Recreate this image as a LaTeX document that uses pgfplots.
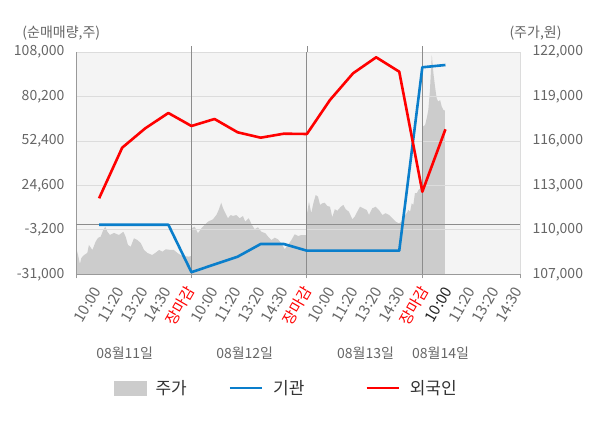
\documentclass[border=0pt]{standalone}
\usepackage{fontspec}
\setmainfont{Noto Sans CJK KR}
\usepackage{pgfplots}
\pgfplotsset{compat=1.18}
\definecolor{bgcol}{HTML}{F4F4F4}
\definecolor{areagray}{HTML}{CCCCCC}
\definecolor{gridlight}{HTML}{DCDCDC}
\definecolor{griddark}{HTML}{8C8C8C}
\definecolor{axisgray}{HTML}{999999}
\definecolor{ticktext}{HTML}{666666}
\definecolor{instblue}{HTML}{0A7ECB}
\definecolor{forred}{HTML}{FF0000}
\definecolor{legtext}{HTML}{333333}
\definecolor{darklabel}{HTML}{222222}

\pgfplotstableread{
x price
0 108640
0.03 108640
0.09 108300
0.17 107695
0.23 108100
0.35 108300
0.49 108440
0.56 108980
0.71 108640
0.85 109200
0.95 109450
1.07 109540
1.18 109990
1.27 110210
1.36 109870
1.47 109650
1.65 109790
1.86 109650
2.05 109870
2.15 109540
2.25 108980
2.37 108860
2.51 109430
2.66 109310
2.80 109110
2.95 108640
3.09 108440
3.30 108300
3.45 108460
3.60 108640
3.74 108525
3.89 108690
4.10 108640
4.24 108640
4.39 108440
4.53 108300
4.68 108235
4.89 108190
4.99 108235
5.00 110100
5.14 110210
5.28 109770
5.43 110100
5.57 110330
5.72 110550
5.93 110710
6.08 111000
6.18 111340
6.29 111830
6.37 111450
6.47 111120
6.58 110780
6.70 111000
6.80 110930
6.94 111000
7.09 110780
7.23 110930
7.33 110550
7.48 110780
7.62 110330
7.74 110040
7.88 110170
8.03 109870
8.20 109770
8.32 109540
8.46 109310
8.61 109470
8.75 109360
8.89 109090
9.04 108690
9.18 108980
9.33 109310
9.47 109700
9.62 109580
9.76 109650
9.99 109650
10.01 111120
10.09 111900
10.19 111120
10.28 111790
10.38 112350
10.48 112240
10.57 111680
10.67 111790
10.77 111830
10.88 111610
11.00 111560
11.10 110850
11.21 111390
11.32 111290
11.47 111560
11.58 111680
11.68 111390
11.82 111220
11.97 110710
12.07 110890
12.18 111220
12.30 111560
12.44 111450
12.59 111340
12.69 111000
12.83 111450
12.98 111560
13.12 111340
13.27 111000
13.41 111120
13.56 111000
13.70 110780
13.85 110550
13.99 110440
14.09 110550
14.18 110850
14.32 111120
14.39 111340
14.47 111220
14.54 111790
14.61 111680
14.68 112470
14.76 112470
14.83 112690
14.99 112910
15.02 116960
15.12 117075
15.19 117530
15.26 118090
15.33 119440
15.41 121800
15.48 120560
15.55 119660
15.62 118880
15.69 118650
15.77 118760
15.84 118310
15.91 118090
15.98 118040
}\pricetable

\pgfplotstableread{
x inst
1 0
2 0
3 0
4 0
5 -29690
6 -24810
7 -19995
8 -12050
9 -12050
10 -16240
11 -16240
12 -16240
13 -16240
14 -16240
15 98440
16 99875
}\insttable

\pgfplotstableread{
x foreign
1 16520
2 48160
3 60290
4 69860
5 61730
6 66110
7 57790
8 54420
9 56920
10 56730
11 77990
12 94690
13 104690
14 95690
15 20650
16 59670
}\fortable

\begin{document}
\begin{tikzpicture}
\path[use as bounding box, fill=white] (0,0) rectangle (600bp,428bp);
% price axis (right)
\begin{axis}[
  at={(76bp,153.7bp)}, anchor=south west, scale only axis,
  width=444bp, height=222.3bp,
  xmin=0, xmax=19.23, ymin=107000, ymax=122000,
  axis background/.style={fill=bgcol},
  axis x line*=bottom, axis y line*=right,
  x axis line style={axisgray, line width=0.8bp},
  y axis line style={gridlight, line width=0.8bp},
  xtick={0,5,10,15,19.23}, xticklabels={},
  tick align=outside, major tick length=4bp,
  x tick style={axisgray, line width=0.8bp},
  ytick={107000,110000,113000,116000,119000,122000},
  y tick style={draw=none},
  ymajorgrids, major grid style={gridlight, line width=0.8bp},
  axis on top,
  scaled y ticks=false,
  /pgf/number format/assume math mode=true,
  yticklabel style={font=\fontsize{14bp}{16bp}\selectfont, text=ticktext, xshift=5bp,
    /pgf/number format/fixed, /pgf/number format/1000 sep={,}},
]
\addplot[fill=areagray, draw=none] table[x=x, y=price] {\pricetable} \closedcycle;
\end{axis}
% net buying axis (left)
\begin{axis}[
  at={(76bp,153.7bp)}, anchor=south west, scale only axis,
  width=444bp, height=222.3bp,
  xmin=0, xmax=19.23, ymin=-31000, ymax=108000,
  axis x line*=bottom, axis y line*=left,
  axis line style={axisgray, line width=0.8bp},
  xtick=\empty,
  major tick length=0pt,
  ytick={-31000,-3200,24600,52400,80200,108000},
  extra y ticks={0}, extra y tick labels={},
  extra y tick style={grid=major, major grid style={griddark, line width=0.8bp}},
  extra x ticks={5,10,15}, extra x tick labels={},
  extra x tick style={grid=major, major grid style={griddark, line width=0.8bp}},
  scaled y ticks=false,
  /pgf/number format/assume math mode=true,
  yticklabel style={font=\fontsize{14bp}{16bp}\selectfont, text=ticktext, xshift=-8bp,
    /pgf/number format/fixed, /pgf/number format/1000 sep={,}},
  legend style={at={(0.0856,-0.5115)}, anchor=west, draw=none, fill=none,
    inner sep=0pt, legend columns=3, font=\fontsize{17bp}{20bp}\selectfont,
    text=legtext, nodes={inner sep=0pt}},
  legend cell align=left,
  legend image code/.code={\draw[#1] (0bp,0bp) -- (32bp,0bp);},
]
\addlegendimage{legend image code/.code={\fill[areagray] (0bp,-7bp) rectangle (32bp,7bp);}}
\addlegendentry{\makebox[82bp][l]{\hspace{9bp}주가}}
\addplot[instblue, line width=2.6bp, line join=round] table[x=x, y=inst] {\insttable};
\addlegendentry{\makebox[102bp][l]{\hspace{10bp}기관}}
\addplot[forred, line width=2.6bp, line join=round] table[x=x, y=foreign] {\fortable};
\addlegendentry{\hspace{10bp}외국인}
\end{axis}
\draw[griddark, line width=0.8bp] (191.4bp,376bp) -- (191.4bp,382.3bp);
\draw[griddark, line width=0.8bp] (306.9bp,376bp) -- (306.9bp,382.3bp);
\draw[griddark, line width=0.8bp] (422.3bp,376bp) -- (422.3bp,382.3bp);
% time labels under the axis
\foreach \i/\t in {1/10:00,2/11:20,3/13:20,4/14:30,6/10:00,7/11:20,8/13:20,9/14:30,11/10:00,12/11:20,13/13:20,14/14:30,17/11:20,18/13:20,19/14:30}
  \node[rotate=60, anchor=east, inner sep=0pt, font=\fontsize{15bp}{17bp}\selectfont, text=ticktext] at ({73.6bp+\i*23.4bp},140bp) {\t};
\foreach \i in {5,10,15}
  \node[rotate=60, anchor=east, inner sep=0pt, font=\fontsize{15bp}{17bp}\selectfont, text=forred] at ({73.6bp+\i*23.4bp},140bp) {장마감};
\node[rotate=60, anchor=east, inner sep=0pt, font=\fontsize{15bp}{17bp}\selectfont, text=darklabel] at ({73.6bp+16*23.4bp},140bp) {10:00};
\node[font=\fontsize{14bp}{16bp}\selectfont, text=ticktext] at (61.3bp,394.7bp) {(순매매량,주)};
\node[font=\fontsize{14bp}{16bp}\selectfont, text=ticktext] at (535.5bp,395bp) {(주가,원)};
\node[font=\fontsize{14bp}{16bp}\selectfont, text=ticktext] at (124.7bp,74.7bp) {08월11일};
\node[font=\fontsize{14bp}{16bp}\selectfont, text=ticktext] at (244.7bp,74.7bp) {08월12일};
\node[font=\fontsize{14bp}{16bp}\selectfont, text=ticktext] at (365.5bp,74.7bp) {08월13일};
\node[font=\fontsize{14bp}{16bp}\selectfont, text=ticktext] at (440.5bp,74.7bp) {08월14일};
\end{tikzpicture}
\end{document}
